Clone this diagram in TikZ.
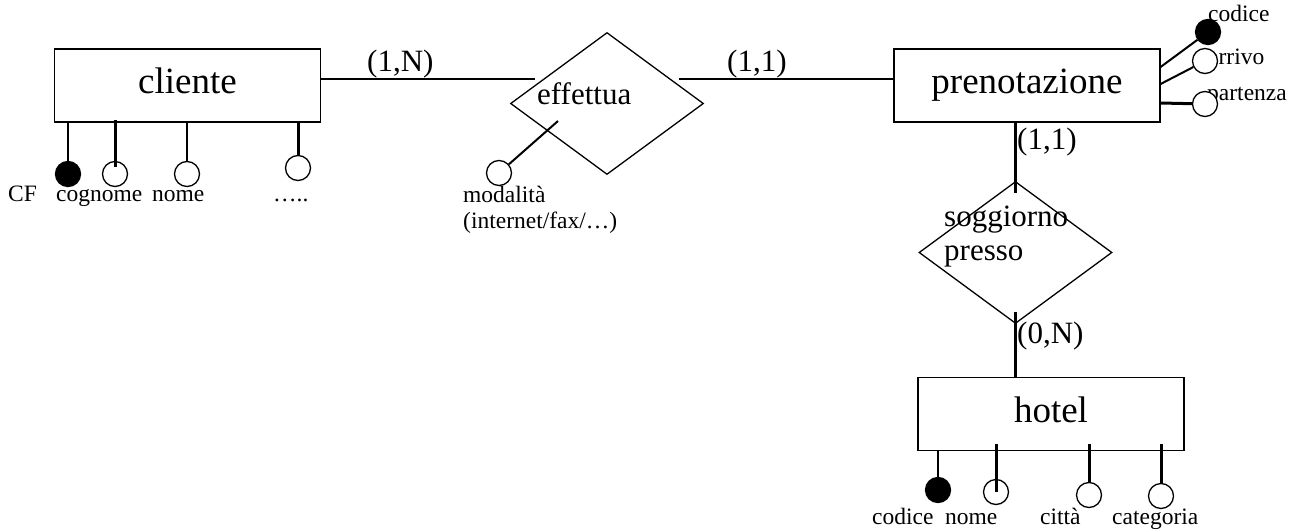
\documentclass[tikz,border=0pt]{standalone}
\usepackage{fontspec}
\setmainfont{Liberation Serif}
\usetikzlibrary{shapes.geometric}
\newcommand\entfont{\fontsize{37}{40}\selectfont}
\newcommand\relfont{\fontsize{31}{33}\selectfont}
\newcommand\attfont{\fontsize{23.5}{26}\selectfont}
\begin{document}
\begin{tikzpicture}[x=1pt,y=-1pt,
  entity/.style={draw,line width=1.2pt,minimum width=266pt,minimum height=73pt,inner sep=0pt,font=\entfont,text height=26pt,text depth=10pt},
  relshape/.style={diamond,draw,line width=1.3pt,aspect=1,inner sep=0pt,minimum width=193pt,minimum height=142pt},
  attr/.style={circle,draw,line width=1.3pt,fill=white,minimum size=25pt,inner sep=0pt},
  keyattr/.style={attr,fill=black},
  link/.style={line width=2pt},
  tlink/.style={line width=3pt},
  lab/.style={font=\attfont,inner sep=0pt,anchor=base west},
  card/.style={font=\relfont,inner sep=0pt,anchor=base west}]
\useasboundingbox (0,0) rectangle (1296,530);

% entities
\node[entity] (cliente) at (187.5,85.5) {cliente};
\node[entity] (pren) at (1027,85.5) {prenotazione};
\node[entity] (hotel) at (1051,414) {hotel};

% relationships
\node[relshape] (eff) at (607,103.5) {};
\node[card,anchor=base west] (efft) at (537,104) {effettua};
\node[relshape] (sog) at (1015.5,252.5) {};
\node[card] (sogt1) at (944,226) {soggiorno};
\node[card] (sogt2) at (944,260) {presso};

% relationship connectors
\coordinate (e1) at (535,79);
\coordinate (e2) at (679,79);
\coordinate (s1) at (1015,193);
\coordinate (s2) at (1015,312);
\draw[link] ([yshift=6.5pt]cliente.east) -- (e1);
\draw[link] (e2) -- (e2 -| pren.west);
\draw[tlink] (s1 |- pren.south) -- (s1);
\draw[tlink] (s2) -- (s2 |- hotel.north);

% cardinalities
\node[card] (c1) at (367,71) {(1,N)};
\node[card] (c2) at (727,71) {(1,1)};
\node[card] (c3) at (1017,149) {(1,1)};
\node[card] (c4) at (1017,343) {(0,N)};

% attribute labels
\node[lab] (lcf) at (8,201) {CF};
\node[lab] (lcog) at (56,201) {cognome};
\node[lab] (lnome) at (152,201) {nome};
\node[lab] (ldots) at (273,201) {…..};
\node[lab] (lmod1) at (463,202) {modalità};
\node[lab] (lmod2) at (463,228) {(internet/fax/…)};
\node[lab] (lpc) at (1208,21) {codice};
\node[lab] (lpa) at (1208,64) {arrivo};
\node[lab] (lpp) at (1207,100) {partenza};
\node[lab] (lhc) at (872,524) {codice};
\node[lab] (lhn) at (945,524) {nome};
\node[lab] (lhcit) at (1040,524) {città};
\node[lab] (lhcat) at (1112,524) {categoria};

% attribute circles
\node[keyattr] (cf) at (68,174) {};
\node[attr] (cog) at (115,174) {};
\node[attr] (nome) at (187,174) {};
\node[attr] (dots) at (298,168) {};
\node[attr] (mod) at (499,173) {};
\node[keyattr] (pc) at (1208,32) {};
\node[attr] (pa) at (1205,61) {};
\node[attr] (pp) at (1205,104) {};
\node[keyattr] (hc) at (938,490) {};
\node[attr] (hn) at (996,492) {};
\node[attr] (hcit) at (1089,495) {};
\node[attr] (hcat) at (1161,496) {};

% attribute connectors
\draw[link] (cf.north) -- (cf.north |- cliente.south);
\draw[tlink] ([yshift=-6pt]cog.north) -- ([yshift=3pt]cog.north |- cliente.south);
\draw[link] (nome.north) -- (nome.north |- cliente.south);
\draw[tlink] (dots.north) -- ([yshift=2pt]dots.north |- cliente.south);
\coordinate (ma) at (558,121);
\draw[link] (mod) -- (ma);
\draw[link] ([yshift=18.5pt]pren.east) -- (pc);
\draw[link] ([yshift=1.5pt]pren.east) -- (pa);
\draw[tlink] ([yshift=-17.5pt]pren.east) -- (pp);
\draw[link] (hc.north) -- (hc.north |- hotel.south);
\draw[tlink] (hn.center) -- ([yshift=7pt]hn.center |- hotel.south);
\draw[tlink] (hcit.north) -- ([yshift=7pt]hcit.north |- hotel.south);
\draw[tlink] (hcat.north) -- ([yshift=7pt]hcat.north |- hotel.south);
\end{tikzpicture}
\end{document}
